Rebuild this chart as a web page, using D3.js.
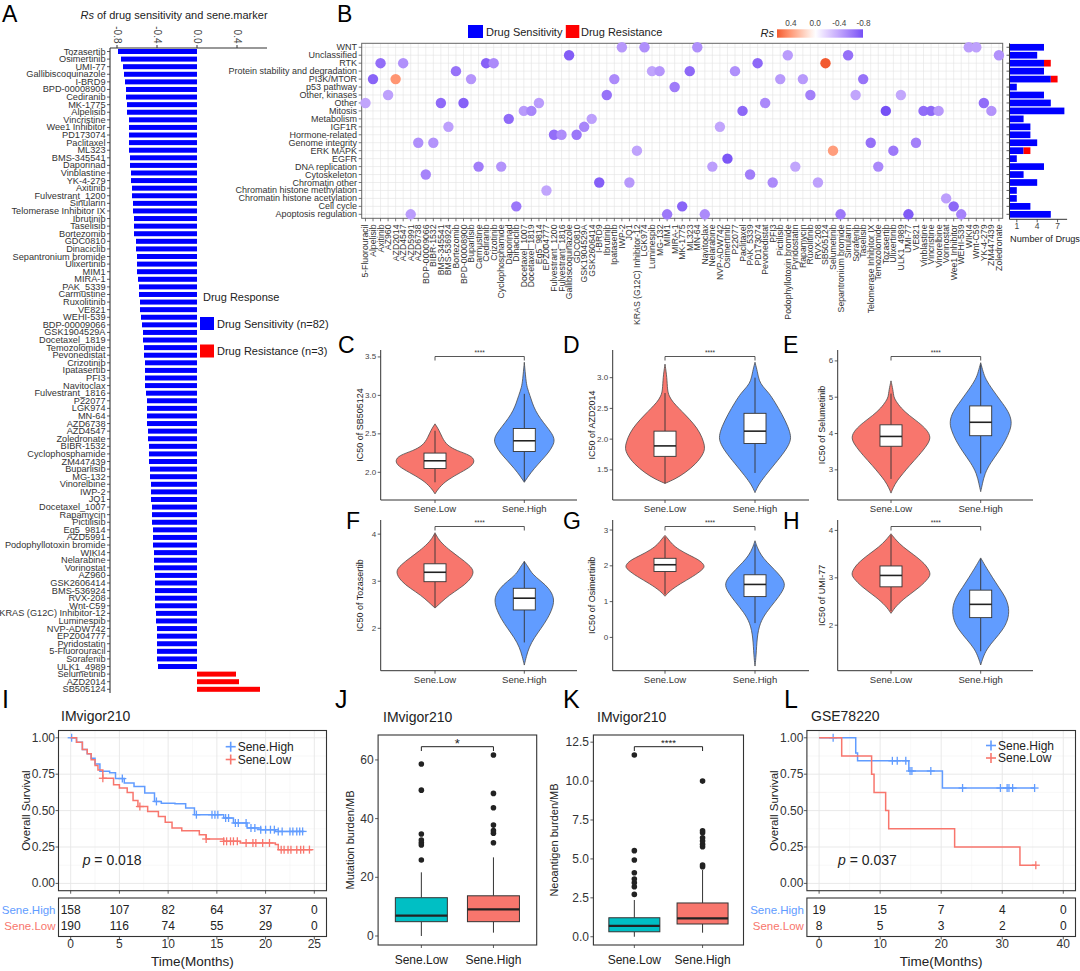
<!DOCTYPE html>
<html>
<head>
<meta charset="utf-8">
<script src="https://cdn.jsdelivr.net/npm/d3@7"></script>
<style>
html,body{margin:0;padding:0;background:#fff;}
svg{display:block;}
text{font-family:"Liberation Sans",Arial,Helvetica,sans-serif;}
</style>
</head>
<body>
<svg id="fig" width="1080" height="971" xmlns="http://www.w3.org/2000/svg"></svg>
<script>
// ================= DATA =================
// Panel A: drugs ordered by Spearman Rs
const drugsA = ["Tozasertib","Osimertinib","UMI-77","Gallibiscoquinazole","I-BRD9","BPD-00008900","Cediranib","MK-1775","Alpelisib","Vincristine","Wee1 Inhibitor","PD173074","Paclitaxel","ML323","BMS-345541","Daporinad","Vinblastine","YK-4-279","Axitinib","Fulvestrant_1200","Sinularin","Telomerase Inhibitor IX","Ibrutinib","Taselisib","Bortezomib","GDC0810","Dinaciclib","Sepantronium bromide","Ulixertinib","MIM1","MIRA-1","PAK_5339","Carmustine","Ruxolitinib","VE821","WEHI-539","BDP-00009066","GSK1904529A","Docetaxel_1819","Temozolomide","Pevonedistat","Crizotinib","Ipatasertib","PFI3","Navitoclax","Fulvestrant_1816","P22077","LGK974","MN-64","AZD6738","AZD4547","Zoledronate","BIBR-1532","Cyclophosphamide","ZM447439","Buparlisib","MG-132","Vinorelbine","IWP-2","JQ1","Docetaxel_1007","Rapamycin","Pictilisib","Eg5_9814","AZD5991","Podophyllotoxin bromide","WIKI4","Nelarabine","Vorinostat","AZ960","GSK2606414","BMS-536924","RVX-208","Wnt-C59","KRAS (G12C) Inhibitor-12","Luminespib","NVP-ADW742","EPZ004777","Pyridostatin","5-Fluorouracil","Sorafenib","ULK1_4989","Selumetinib","AZD2014","SB505124"];
const rsA = [-0.79,-0.76,-0.74,-0.73,-0.72,-0.71,-0.71,-0.70,-0.70,-0.68,
 -0.68,-0.68,-0.68,-0.68,-0.67,-0.67,-0.66,-0.66,-0.65,-0.65,
 -0.64,-0.64,-0.63,-0.63,-0.63,-0.61,-0.61,-0.60,-0.60,-0.60,
 -0.59,-0.58,-0.58,-0.57,-0.57,-0.56,-0.55,-0.54,-0.54,-0.53,
 -0.53,-0.52,-0.52,-0.52,-0.52,-0.51,-0.50,-0.50,-0.50,-0.50,
 -0.49,-0.49,-0.48,-0.48,-0.48,-0.47,-0.47,-0.46,-0.46,-0.46,
 -0.45,-0.45,-0.45,-0.44,-0.44,-0.44,-0.43,-0.43,-0.43,-0.42,
 -0.42,-0.42,-0.42,-0.42,-0.41,-0.41,-0.40,-0.40,-0.40,-0.40,
 -0.40,-0.39,0.39,0.42,0.63];
const ticksA = [-0.8,-0.4,0.0,0.4];

// Panel B: pathways (top to bottom) and drugs (alphabetical) with their pathway
const pathways = ["WNT","Unclassified","RTK","Protein stability and degradation","PI3K/MTOR","p53 pathway","Other, kinases","Other","Mitosis","Metabolism","IGF1R","Hormone-related","Genome integrity","ERK MAPK","EGFR","DNA replication","Cytoskeleton","Chromatin other","Chromatin histone methylation","Chromatin histone acetylation","Cell cycle","Apoptosis regulation"];
const drugsB = ["5-Fluorouracil","Alpelisib","Axitinib","AZ960","AZD2014","AZD4547","AZD5991","AZD6738","BDP-00009066","BIBR-1532","BMS-345541","BMS-536924","Bortezomib","BPD-00008900","Buparlisib","Carmustine","Cediranib","Crizotinib","Cyclophosphamide","Daporinad","Dinaciclib","Docetaxel_1007","Docetaxel_1819","Eg5_9814","EPZ004777","Fulvestrant_1200","Fulvestrant_1816","Gallibiscoquinazole","GDC0810","GSK1904529A","GSK2606414","I-BRD9","Ibrutinib","Ipatasertib","IWP-2","JQ1","KRAS (G12C) Inhibitor-12","LGK974","Luminespib","MG-132","MIM1","MIRA-1","MK-1775","ML323","MN-64","Navitoclax","Nelarabine","NVP-ADW742","Osimertinib","P22077","Paclitaxel","PAK_5339","PD173074","Pevonedistat","PFI3","Pictilisib","Podophyllotoxin bromide","Pyridostatin","Rapamycin","Ruxolitinib","RVX-208","SB505124","Selumetinib","Sepantronium bromide","Sinularin","Sorafenib","Taselisib","Telomerase Inhibitor IX","Temozolomide","Tozasertib","Ulixertinib","ULK1_4989","UMI-77","VE821","Vinblastine","Vincristine","Vinorelbine","Vorinostat","Wee1 Inhibitor","WEHI-539","WIKI4","Wnt-C59","YK-4-279","ZM447439","Zoledronate"];
const pathwayB = ["Other","PI3K/MTOR","RTK","Other, kinases","PI3K/MTOR","RTK","Apoptosis regulation","Genome integrity","Cytoskeleton","Genome integrity",
 "Other","IGF1R","Protein stability and degradation","Other","PI3K/MTOR","DNA replication","RTK","RTK","DNA replication","Metabolism",
 "Cell cycle","Mitosis","Mitosis","Other","Chromatin histone methylation","Hormone-related","Hormone-related","Unclassified","Hormone-related","IGF1R",
 "Metabolism","Chromatin other","Other, kinases","PI3K/MTOR","WNT","Chromatin other","ERK MAPK","WNT","Protein stability and degradation","Protein stability and degradation",
 "Apoptosis regulation","p53 pathway","Cell cycle","Protein stability and degradation","WNT","Apoptosis regulation","DNA replication","IGF1R","EGFR","Protein stability and degradation",
 "Mitosis","Cytoskeleton","RTK","Other","Chromatin other","PI3K/MTOR","Unclassified","DNA replication","PI3K/MTOR","Other, kinases",
 "Chromatin other","RTK","ERK MAPK","Apoptosis regulation","Unclassified","Other, kinases","PI3K/MTOR","Genome integrity","DNA replication","Mitosis",
 "ERK MAPK","Other, kinases","Apoptosis regulation","Genome integrity","Mitosis","Mitosis","Mitosis","Chromatin histone acetylation","Cell cycle","Apoptosis regulation",
 "WNT","WNT","Other","Mitosis","Unclassified"];
const countTicks = [1,4,7];
const rsLegendTicks = [0.4,0.0,-0.4,-0.8];

// Panels C-H: violin density profiles [IC50, relative density] and box stats [lowWhisker, q1, median, q3, highWhisker]
const groups = ["Sene.Low","Sene.High"];
const vioSB505124Low  = [[1.72,0],[1.80,0.1],[1.90,0.3],[2.00,0.65],[2.08,0.92],[2.15,1.0],[2.22,0.9],[2.28,0.55],[2.35,0.3],[2.45,0.18],[2.55,0.1],[2.63,0]];
const vioSB505124High = [[1.87,0],[1.95,0.1],[2.05,0.25],[2.15,0.42],[2.25,0.6],[2.35,0.72],[2.42,0.76],[2.5,0.7],[2.6,0.55],[2.7,0.4],[2.8,0.28],[2.9,0.2],[3.0,0.14],[3.1,0.07],[3.2,0.04],[3.43,0]];
const boxSB505124 = [[1.87,2.05,2.15,2.25,2.54],[1.88,2.27,2.41,2.57,3.02]];
const vioAZD2014Low  = [[1.28,0],[1.35,0.25],[1.45,0.5],[1.6,0.78],[1.75,0.95],[1.85,1.0],[1.95,0.97],[2.1,0.88],[2.25,0.72],[2.4,0.5],[2.5,0.35],[2.6,0.2],[2.7,0.1],[2.8,0.06],[3.0,0.05],[3.22,0]];
const vioAZD2014High = [[1.13,0],[1.25,0.08],[1.4,0.25],[1.6,0.5],[1.8,0.75],[1.95,0.88],[2.05,0.9],[2.2,0.83],[2.4,0.68],[2.6,0.5],[2.75,0.35],[2.85,0.2],[2.95,0.1],[3.1,0.06],[3.25,0]];
const boxAZD2014 = [[1.28,1.72,1.89,2.13,2.75],[1.45,1.93,2.13,2.42,3.0]];
const vioSelumetinibLow  = [[2.36,0],[2.5,0.05],[2.7,0.15],[2.9,0.3],[3.1,0.45],[3.4,0.7],[3.7,0.92],[3.9,1.0],[4.1,0.9],[4.3,0.7],[4.5,0.45],[4.7,0.25],[4.9,0.12],[5.0,0.07],[5.2,0.05],[5.45,0]];
const vioSelumetinibHigh = [[2.4,0],[2.6,0.04],[2.9,0.1],[3.2,0.25],[3.5,0.45],[3.8,0.62],[4.1,0.74],[4.33,0.78],[4.6,0.7],[4.9,0.5],[5.2,0.3],[5.5,0.12],[5.7,0.06],[5.95,0]];
const boxSelumetinib = [[2.75,3.65,3.92,4.24,5.1],[2.9,3.94,4.31,4.76,5.9]];
const vioTozasertibLow  = [[2.43,0],[2.55,0.15],[2.7,0.35],[2.85,0.62],[3.0,0.85],[3.2,1.0],[3.35,0.85],[3.5,0.62],[3.65,0.38],[3.8,0.18],[3.9,0.08],[4.03,0]];
const vioTozasertibHigh = [[1.22,0],[1.4,0.05],[1.6,0.12],[1.8,0.25],[2.0,0.42],[2.2,0.58],[2.45,0.72],[2.65,0.75],[2.85,0.62],[3.0,0.42],[3.15,0.2],[3.3,0.1],[3.42,0]];
const boxTozasertib = [[2.45,2.99,3.19,3.37,4.0],[1.7,2.39,2.64,2.85,3.42]];
const vioOsimertinibLow  = [[1.15,0],[1.3,0.12],[1.5,0.38],[1.7,0.7],[1.9,0.95],[2.0,1.0],[2.15,0.88],[2.3,0.6],[2.45,0.35],[2.6,0.18],[2.75,0.08],[2.85,0]];
const vioOsimertinibHigh = [[-0.8,0],[-0.5,0.03],[0,0.05],[0.4,0.12],[0.7,0.28],[1.0,0.5],[1.3,0.7],[1.5,0.76],[1.7,0.65],[1.9,0.48],[2.1,0.3],[2.3,0.15],[2.5,0.06],[2.7,0]];
const boxOsimertinib = [[1.2,1.84,2.03,2.21,2.8],[0.4,1.14,1.48,1.75,2.6]];
const vioUMI77Low  = [[2.25,0],[2.4,0.12],[2.6,0.38],[2.8,0.72],[3.0,0.95],[3.1,1.0],[3.3,0.85],[3.5,0.55],[3.65,0.3],[3.8,0.12],[3.93,0]];
const vioUMI77High = [[1.16,0],[1.3,0.05],[1.5,0.15],[1.7,0.35],[1.9,0.55],[2.1,0.68],[2.35,0.72],[2.6,0.62],[2.8,0.45],[3.0,0.3],[3.2,0.15],[3.42,0]];
const boxUMI77 = [[2.3,2.81,3.05,3.25,3.9],[1.45,2.16,2.44,2.74,3.4]];

// Panel I (IMvigor210) Kaplan-Meier
const kmIHighTime = [0,0.6,1.2,1.7,2.1,2.5,3.0,4.0,4.6,5.5,6.5,7.6,8.6,9.3,10.7,11.8,12.7,15.7,16.7,18.1,19.5,21.0,23.9];
const kmIHighSurv = [1,0.97,0.92,0.89,0.86,0.82,0.77,0.76,0.72,0.69,0.665,0.62,0.563,0.551,0.547,0.517,0.472,0.449,0.415,0.381,0.369,0.357,0.353];
const kmILowTime = [0,0.6,1.2,1.7,2.1,2.5,2.8,3.3,4.4,5.0,5.8,6.4,6.9,7.9,9.0,9.7,10.4,11.4,13.2,13.9,15.7,17.4,21.0,21.3,24.8];
const kmILowSurv = [1,0.97,0.92,0.89,0.85,0.81,0.779,0.722,0.677,0.655,0.624,0.57,0.528,0.494,0.46,0.42,0.381,0.362,0.335,0.305,0.289,0.278,0.267,0.232,0.232];
const censorIHigh = [0.1,5.3,8.8,12.9,14.5,14.8,15.1,15.9,16.2,16.9,17.2,18.0,18.5,18.9,19.5,20.0,20.5,20.9,21.3,21.7,22.5,22.8,23.2,23.5,23.8];
const censorILow = [3.3,7.1,13.9,15.7,16.0,16.4,16.7,17.1,18.0,18.7,19.0,19.7,20.4,21.6,21.9,22.3,22.6,23.2,23.6,23.9,24.5];
const riskIHigh = [158,107,82,64,37,0];
const riskILow = [190,116,74,55,29,0];
const timeTicksI = [0,5,10,15,20,25];

// Panel L (GSE78220) Kaplan-Meier
const kmLHighTime = [0,6.0,6.3,14.7,20.2,35.3];
const kmLHighSurv = [1,0.895,0.842,0.772,0.655,0.655];
const kmLLowTime = [0,3.7,8.6,9.0,10.9,11.4,22.2,32.9,35.5];
const kmLLowSurv = [1,0.875,0.75,0.625,0.5,0.375,0.25,0.125,0.125];
const censorLHigh = [2.3,12.0,12.8,14.2,14.9,15.2,18.3,23.5,29.7,30.8,31.1,31.7,35.3];
const censorLLow = [35.5];
const riskLHigh = [19,15,7,4,0];
const riskLLow = [8,5,3,2,0];
const timeTicksL = [0,10,20,30,40];
const survTicks = [0,0.25,0.5,0.75,1];

// Panel J: mutation burden; Panel K: neoantigen burden (box stats + outliers)
const boxTMB = [[0,4.88,6.92,13.05,21.7],[1.14,4.88,9.08,13.7,26.8]];
const outTMBLow = [25.9,31.0,31.8,32.7,34.75,49.7,58.6];
const outTMBHigh = [31.8,35.0,35.9,37.8,43.7,48.6,61.7];
const ticksTMB = [0,20,40,60];
const boxTNB = [[0.0,0.32,0.7,1.22,2.36],[0.26,0.82,1.18,2.17,4.29]];
const outTNBLow = [2.72,3.21,3.47,3.71,4.11,4.93,5.53,11.68];
const outTNBHigh = [4.5,4.61,5.78,5.94,6.15,6.36,6.68,6.81,10.0];
const ticksTNB = [0,2.5,5,7.5,10,12.5];

// ================= DRAWING =================
const svg = d3.select("#fig");
const colSens = "#0000FF", colRes = "#FF0000";
const colLow = "#F8766D", colHigh = "#619CFF", colTeal = "#00BFC4";

function T(g, x, y, s, size, o = {}) {
  const t = g.append("text").attr("x", x).attr("y", y)
    .attr("font-size", size).attr("fill", o.fill || "#1a1a1a")
    .attr("text-anchor", o.anchor || "start");
  if (o.base) t.attr("dominant-baseline", o.base);
  if (o.rot != null) t.attr("transform", `rotate(${o.rot},${x},${y})`);
  if (o.italic) t.attr("font-style", "italic");
  t.text(s);
  return t;
}
function L(g, x1, y1, x2, y2, stroke = "#333", w = 1) {
  return g.append("line").attr("x1", x1).attr("y1", y1).attr("x2", x2).attr("y2", y2)
    .attr("stroke", stroke).attr("stroke-width", w);
}

// panel letters
const letters = svg.append("g");
[["A",2,21.7],["B",337,21.7],["C",338,353],["D",563,353],["E",783,353],["F",346,529],["G",563,529],["H",783,529]]
  .forEach(([s,x,y]) => T(letters, x, y, s, 23, {fill:"#000"}));
[["I",2,708],["J",335,708],["K",563,708],["L",784,708]]
  .forEach(([s,x,y]) => T(letters, x, y, s, 25, {fill:"#000"}));

// ---------- Panel A ----------
{
  const g = svg.append("g");
  const x = d3.scaleLinear().domain([-0.87, 0.70]).range([110, 267]);
  const y = d3.scalePoint().domain(drugsA).range([51.5, 689.3]);
  const bars = drugsA.map((d, i) => ({ drug: d, rs: rsA[i] }));
  g.selectAll("rect.barA").data(bars).join("rect").attr("class","barA")
    .attr("x", d => x(Math.min(0, d.rs))).attr("width", d => Math.abs(x(d.rs) - x(0)))
    .attr("y", d => y(d.drug) - 2.5).attr("height", 5)
    .attr("fill", d => d.rs < 0 ? colSens : colRes);
  L(g, 110, 48, 267, 48, "#333", 1.1);
  L(g, 110, 48, 110, 693, "#333", 1.1);
  ticksA.forEach(v => {
    L(g, x(v), 48, x(v), 45, "#333", 1);
    T(g, x(v), 43.5, v.toFixed(1), 10, {anchor:"end", rot:90, base:"central", fill:"#444"});
  });
  drugsA.forEach(d => {
    L(g, 107, y(d), 110, y(d), "#333", 0.8);
    T(g, 105.5, y(d), d, 9.2, {anchor:"end", base:"central", fill:"#333"});
  });
  const tt = g.append("text").attr("x", 174).attr("y", 19).attr("text-anchor","middle")
    .attr("font-size", 11).attr("fill", "#222");
  tt.append("tspan").attr("font-style","italic").text("Rs");
  tt.append("tspan").text(" of drug sensitivity and sene.marker");
  const nSens = rsA.filter(v => v < 0).length, nRes = rsA.filter(v => v > 0).length;
  T(g, 203, 301, "Drug Response", 11, {fill:"#222"});
  g.append("rect").attr("x",200).attr("y",317).attr("width",14).attr("height",13).attr("fill",colSens);
  T(g, 217, 327.5, `Drug Sensitivity (n=${nSens})`, 11, {fill:"#222"});
  g.append("rect").attr("x",200).attr("y",344.5).attr("width",14).attr("height",13).attr("fill",colRes);
  T(g, 217, 355, `Drug Resistance (n=${nRes})`, 11, {fill:"#222"});
}

// ---------- Panel B ----------
const rsColor = d3.scaleLinear().domain([-0.79, 0, 0.63]).range(["#7550F5","#FFFFFF","#F25A30"]).interpolate(d3.interpolateLab);
{
  const g = svg.append("g");
  const x = d3.scaleBand().domain(drugsB).range([361.7, 1002.7]);
  const y = d3.scaleBand().domain(pathways).range([43.3, 218.3]);
  const cx = d => x(d) + x.bandwidth() / 2;
  const cy = p => y(p) + y.bandwidth() / 2;
  const rsBy = new Map(drugsA.map((d, i) => [d, rsA[i]]));
  const pts = drugsB.map((d, i) => ({ drug: d, path: pathwayB[i], rs: rsBy.get(d) }));

  g.append("rect").attr("x",361.7).attr("y",43.3).attr("width",641).attr("height",175).attr("fill","#fff");
  drugsB.forEach(d => L(g, cx(d), 43.3, cx(d), 218.3, "#E3E3E3", 0.6));
  pathways.forEach(p => L(g, 361.7, cy(p), 1002.7, cy(p), "#E3E3E3", 0.6));
  g.append("rect").attr("x",361.7).attr("y",43.3).attr("width",641).attr("height",175)
    .attr("fill","none").attr("stroke","#666").attr("stroke-width",1);
  pathways.forEach(p => {
    L(g, 358.7, cy(p), 361.7, cy(p), "#555", 0.8);
    T(g, 357, cy(p), p, 9, {anchor:"end", base:"central", fill:"#333"});
  });
  drugsB.forEach(d => {
    L(g, cx(d), 218.3, cx(d), 221.3, "#555", 0.8);
    T(g, cx(d), 224.5, d, 8.7, {anchor:"end", rot:-90, base:"central", fill:"#333"});
  });
  g.selectAll("circle.dotB").data(pts).join("circle").attr("class","dotB")
    .attr("cx", d => cx(d.drug)).attr("cy", d => cy(d.path)).attr("r", 5.2)
    .attr("fill", d => rsColor(d.rs));

  // number of drugs per pathway
  const xn = d3.scaleLinear().domain([0, 8.4]).range([1010, 1067.1]);
  const counts = pathways.map(p => ({
    path: p,
    sens: pts.filter(o => o.path === p && o.rs < 0).length,
    res: pts.filter(o => o.path === p && o.rs > 0).length
  }));
  const bh = y.bandwidth() * 0.84, bo = y.bandwidth() * 0.08;
  g.selectAll("rect.sensN").data(counts).join("rect").attr("class","sensN")
    .attr("x", xn(0)).attr("y", d => y(d.path) + bo).attr("height", bh)
    .attr("width", d => xn(d.sens) - xn(0)).attr("fill", colSens);
  g.selectAll("rect.resN").data(counts.filter(d => d.res > 0)).join("rect").attr("class","resN")
    .attr("x", d => xn(d.sens)).attr("y", d => y(d.path) + bo).attr("height", bh)
    .attr("width", d => xn(d.sens + d.res) - xn(d.sens)).attr("fill", colRes);
  L(g, 1009.5, 43.3, 1009.5, 219.3, "#333", 1);
  L(g, 1009.5, 219.3, 1067.1, 219.3, "#333", 1);
  pathways.forEach(p => L(g, 1006.5, cy(p), 1009.5, cy(p), "#333", 0.8));
  countTicks.forEach(v => {
    L(g, xn(v), 219.3, xn(v), 222.3, "#333", 0.8);
    T(g, xn(v), 228.5, String(v), 8.5, {anchor:"middle", fill:"#444"});
  });
  T(g, 1045, 241.5, "Number of Drugs", 9.2, {anchor:"middle", fill:"#222"});

  // legends
  g.append("rect").attr("x",468).attr("y",25).attr("width",15).attr("height",13).attr("fill",colSens);
  T(g, 486, 36.2, "Drug Sensitivity", 11, {fill:"#222"});
  g.append("rect").attr("x",565.8).attr("y",25).attr("width",13.5).attr("height",13).attr("fill",colRes);
  T(g, 581, 36.2, "Drug Resistance", 11, {fill:"#222"});
  T(g, 774, 37, "Rs", 11, {anchor:"end", italic:true, fill:"#222"});
  const defs = svg.append("defs");
  const grad = defs.append("linearGradient").attr("id","rsgrad").attr("x1","0%").attr("x2","100%");
  const xl = d3.scaleLinear().domain([0.63, -0.79]).range([777, 863]);
  d3.range(0, 21).forEach(i => {
    const v = xl.invert(777 + i * (86 / 20));
    grad.append("stop").attr("offset", (i * 5) + "%").attr("stop-color", rsColor(v));
  });
  g.append("rect").attr("x",777).attr("y",29.3).attr("width",86).attr("height",8.4).attr("fill","url(#rsgrad)");
  rsLegendTicks.forEach(v => T(g, xl(v), 25.5, v.toFixed(1), 8.2, {anchor:"middle", fill:"#444"}));
}

// ---------- Panels C-H ----------
const violinPanels = [
  {drug:"SB505124", yx:380.7, right:577, top:350, bottom:500, xl:435, xh:524.3, dom:[1.64,3.59], ticks:[2,2.5,3,3.5], dec:1, toff:21, low:vioSB505124Low, high:vioSB505124High, box:boxSB505124},
  {drug:"AZD2014", yx:612.7, right:809, top:350, bottom:500, xl:665, xh:755, dom:[1.01,3.45], ticks:[1.5,2,2.5,3], dec:1, toff:21, low:vioAZD2014Low, high:vioAZD2014High, box:boxAZD2014},
  {drug:"Selumetinib", yx:837.7, right:1033, top:350, bottom:500, xl:891, xh:980.7, dom:[2.17,6.3], ticks:[3,4,5,6], dec:0, toff:16, low:vioSelumetinibLow, high:vioSelumetinibHigh, box:boxSelumetinib},
  {drug:"Tozasertib", yx:380.7, right:577, top:520, bottom:670.7, xl:435, xh:524.3, dom:[1.1,4.3], ticks:[2,3,4], dec:0, toff:21, low:vioTozasertibLow, high:vioTozasertibHigh, box:boxTozasertib},
  {drug:"Osimertinib", yx:612.7, right:809, top:520, bottom:670.7, xl:665, xh:755, dom:[-0.93,3.28], ticks:[0,1,2,3], dec:0, toff:21, low:vioOsimertinibLow, high:vioOsimertinibHigh, box:boxOsimertinib},
  {drug:"UMI-77", yx:837.7, right:1033, top:520, bottom:670.7, xl:891, xh:980.7, dom:[1.04,4.22], ticks:[2,3,4], dec:0, toff:16, low:vioUMI77Low, high:vioUMI77High, box:boxUMI77}
];
violinPanels.forEach(c => {
  const g = svg.append("g");
  const y = d3.scaleLinear().domain(c.dom).range([c.bottom, c.top]);
  const xg = d3.scaleOrdinal().domain(groups).range([c.xl, c.xh]);
  const halfW = 40, boxHalf = 11;
  [[c.low, groups[0], colLow], [c.high, groups[1], colHigh]].forEach(([prof, grp, col]) => {
    const cxv = xg(grp);
    const area = d3.area().curve(d3.curveBasis)
      .y(p => y(p[0])).x0(p => cxv - p[1] * halfW).x1(p => cxv + p[1] * halfW);
    g.append("path").attr("d", area(prof)).attr("fill", col)
      .attr("stroke", "#4a4a4a").attr("stroke-width", 0.8);
  });
  c.box.forEach((b, i) => {
    const cxv = xg(groups[i]);
    L(g, cxv, y(b[0]), cxv, y(b[1]), "#333", 0.9);
    L(g, cxv, y(b[3]), cxv, y(b[4]), "#333", 0.9);
    g.append("rect").attr("x", cxv - boxHalf).attr("width", boxHalf * 2)
      .attr("y", y(b[3])).attr("height", y(b[1]) - y(b[3]))
      .attr("fill", "#fff").attr("stroke", "#333").attr("stroke-width", 0.9);
    L(g, cxv - boxHalf, y(b[2]), cxv + boxHalf, y(b[2]), "#222", 1.6);
  });
  L(g, c.yx, c.top, c.yx, c.bottom, "#333", 1);
  L(g, c.yx, c.bottom, c.right, c.bottom, "#333", 1);
  c.ticks.forEach(v => {
    L(g, c.yx - 3, y(v), c.yx, y(v), "#333", 0.8);
    T(g, c.yx - 4.5, y(v), v.toFixed(c.dec), 8, {anchor:"end", base:"central", fill:"#444"});
  });
  groups.forEach(gr => {
    L(g, xg(gr), c.bottom, xg(gr), c.bottom + 3, "#333", 0.8);
    T(g, xg(gr), c.bottom + 12, gr, 9.5, {anchor:"middle", fill:"#333"});
  });
  T(g, c.yx - c.toff, (c.top + c.bottom) / 2, "IC50 of " + c.drug, 9, {anchor:"middle", rot:-90, base:"central", fill:"#222"});
  const by = c.top + 6.5;
  L(g, c.xl, by, c.xh, by, "#444", 0.9);
  L(g, c.xl, by, c.xl, by + 4, "#444", 0.9);
  L(g, c.xh, by, c.xh, by + 4, "#444", 0.9);
  T(g, (c.xl + c.xh) / 2, by - 2, "****", 6.5, {anchor:"middle", fill:"#333"});
});

// ---------- Panels I and L (Kaplan-Meier) ----------
function survAt(times, surv, t) {
  let s = surv[0];
  times.forEach((ti, i) => { if (ti <= t) s = surv[i]; });
  return s;
}
function kmPanel(o) {
  const g = svg.append("g");
  const x = d3.scaleLinear().domain(o.xDomain).range([o.left, o.right]);
  const y = d3.scaleLinear().domain([-0.05, 1.05]).range([o.bottom, o.top]);
  g.append("rect").attr("x", o.left).attr("y", o.top).attr("width", o.right - o.left)
    .attr("height", o.bottom - o.top).attr("fill", "#fff");
  const minorX = o.ticksX.slice(0, -1).map((t, i) => (t + o.ticksX[i + 1]) / 2);
  const minorY = survTicks.slice(0, -1).map((t, i) => (t + survTicks[i + 1]) / 2);
  minorX.forEach(t => L(g, x(t), o.top, x(t), o.bottom, "#F3F3F3", 0.6));
  minorY.forEach(t => L(g, o.left, y(t), o.right, y(t), "#F3F3F3", 0.6));
  o.ticksX.forEach(t => L(g, x(t), o.top, x(t), o.bottom, "#E6E6E6", 0.9));
  survTicks.forEach(t => L(g, o.left, y(t), o.right, y(t), "#E6E6E6", 0.9));
  g.append("rect").attr("x", o.left).attr("y", o.top).attr("width", o.right - o.left)
    .attr("height", o.bottom - o.top).attr("fill", "none").attr("stroke", "#333").attr("stroke-width", 1.1);
  survTicks.forEach(t => {
    L(g, o.left - 3, y(t), o.left, y(t), "#333", 0.8);
    T(g, o.left - 3.5, y(t), t.toFixed(2), 12, {anchor:"end", base:"central", fill:"#333"});
  });
  o.ticksX.forEach(t => L(g, x(t), o.bottom, x(t), o.bottom + 3, "#333", 0.8));
  T(g, o.yTitleX, (o.top + o.bottom) / 2, "Overall Survival", 11.5, {anchor:"middle", rot:-90, base:"central", fill:"#222"});
  const line = d3.line().curve(d3.curveStepAfter).x(p => x(p[0])).y(p => y(p[1]));
  o.series.forEach(s => {
    const pts = s.time.map((t, i) => [t, s.surv[i]]);
    g.append("path").attr("d", line(pts)).attr("fill", "none").attr("stroke", s.color).attr("stroke-width", 1.5);
    s.censor.forEach(t => {
      const cxv = x(t), cyv = y(survAt(s.time, s.surv, t));
      L(g, cxv - 4, cyv, cxv + 4, cyv, s.color, 1.3);
      L(g, cxv, cyv - 4, cxv, cyv + 4, s.color, 1.3);
    });
  });
  o.series.forEach((s, i) => {
    const ly = o.legendY[i];
    L(g, o.legendX - 5, ly, o.legendX + 5, ly, s.color, 1.6);
    L(g, o.legendX, ly - 5, o.legendX, ly + 5, s.color, 1.6);
    T(g, o.legendX + 7, ly, s.name, 12, {base:"central", fill:"#222"});
  });
  const pt = g.append("text").attr("x", o.pX).attr("y", 865).attr("font-size", 14).attr("fill", "#222");
  pt.append("tspan").attr("font-style", "italic").text("p");
  pt.append("tspan").text(" = " + o.pText);
  T(g, o.titleX, 721, o.title, 14, {fill:"#222"});
  // risk table
  g.append("rect").attr("x", o.left).attr("y", 898).attr("width", o.right - o.left).attr("height", 38.5)
    .attr("fill", "#fff").attr("stroke", "#333").attr("stroke-width", 1.1);
  const rowY = [909.5, 925.5];
  o.series.forEach((s, i) => {
    T(g, o.left - 3, rowY[i], s.name, 11.5, {anchor:"end", base:"central", fill:s.color});
    s.risk.forEach((n, j) => T(g, x(o.ticksX[j]), rowY[i], String(n), 12, {anchor:"middle", base:"central", fill:"#222"}));
  });
  o.ticksX.forEach(t => {
    L(g, x(t), 936.5, x(t), 939.5, "#333", 0.8);
    T(g, x(t), 943.8, String(t), 12, {anchor:"middle", base:"central", fill:"#333"});
  });
  T(g, (o.left + o.right) / 2, 965.5, "Time(Months)", 13.5, {anchor:"middle", fill:"#222"});
}
kmPanel({
  left:58.5, right:326.5, top:730.5, bottom:890.7, xDomain:[-1.25, 26.25], ticksX:timeTicksI,
  yTitleX:25.8, pX:82.7, pText:"0.018", title:"IMvigor210", titleX:61, legendX:230.7, legendY:[746.7, 759.5],
  series:[
    {name:"Sene.High", color:colHigh, time:kmIHighTime, surv:kmIHighSurv, censor:censorIHigh, risk:riskIHigh},
    {name:"Sene.Low", color:colLow, time:kmILowTime, surv:kmILowSurv, censor:censorILow, risk:riskILow}
  ]
});
kmPanel({
  left:806.9, right:1075.5, top:730.5, bottom:890.7, xDomain:[-2, 42], ticksX:timeTicksL,
  yTitleX:774.2, pX:838, pText:"0.037", title:"GSE78220", titleX:811, legendX:991, legendY:[745.5, 758],
  series:[
    {name:"Sene.High", color:colHigh, time:kmLHighTime, surv:kmLHighSurv, censor:censorLHigh, risk:riskLHigh},
    {name:"Sene.Low", color:colLow, time:kmLLowTime, surv:kmLLowSurv, censor:censorLLow, risk:riskLLow}
  ]
});

// ---------- Panels J and K (box plots) ----------
function boxPanel(o) {
  const g = svg.append("g");
  const x = d3.scalePoint().domain(groups).range([o.left, o.right]).padding(0.6);
  const y = d3.scaleLinear().domain(o.yDomain).range([o.bottom, o.top]);
  g.append("rect").attr("x", o.left).attr("y", o.top).attr("width", o.right - o.left)
    .attr("height", o.bottom - o.top).attr("fill", "#fff").attr("stroke", "#333").attr("stroke-width", 1.1);
  o.ticks.forEach(v => {
    L(g, o.left - 3, y(v), o.left, y(v), "#333", 0.8);
    T(g, o.left - 4.5, y(v), v.toFixed(o.dec), 12, {anchor:"end", base:"central", fill:"#333"});
  });
  groups.forEach(gr => {
    L(g, x(gr), o.bottom, x(gr), o.bottom + 3, "#333", 0.8);
    T(g, x(gr), 963.5, gr, 12, {anchor:"middle", fill:"#222"});
  });
  const cols = [colTeal, colLow];
  o.box.forEach((b, i) => {
    const cxv = x(groups[i]), hw = o.boxW / 2;
    L(g, cxv, y(b[0]), cxv, y(b[1]), "#333", 1);
    L(g, cxv, y(b[3]), cxv, y(b[4]), "#333", 1);
    g.append("rect").attr("x", cxv - hw).attr("width", hw * 2).attr("y", y(b[3]))
      .attr("height", y(b[1]) - y(b[3])).attr("fill", cols[i]).attr("stroke", "#333").attr("stroke-width", 1);
    L(g, cxv - hw, y(b[2]), cxv + hw, y(b[2]), "#222", 2.2);
    g.selectAll(null).data(o.out[i]).join("circle")
      .attr("cx", cxv).attr("cy", v => y(v)).attr("r", 2.8).attr("fill", "#222");
  });
  const xl = x(groups[0]), xh = x(groups[1]);
  L(g, xl, 746.7, xh, 746.7, "#222", 1);
  L(g, xl, 746.7, xl, 751, "#222", 1);
  L(g, xh, 746.7, xh, 751, "#222", 1);
  T(g, (xl + xh) / 2, o.starY, o.star, o.starSize, {anchor:"middle", fill:"#222"});
  T(g, o.titleX, 722, "IMvigor210", 14, {fill:"#222"});
  T(g, o.yTitleX, (o.top + o.bottom) / 2, o.yTitle, 11, {anchor:"middle", rot:-90, base:"central", fill:"#222"});
}
boxPanel({left:378.1, right:536.7, top:735, bottom:945, yDomain:[-3.07, 68.5], ticks:ticksTMB, dec:0,
  boxW:52, box:boxTMB, out:[outTMBLow, outTMBHigh], star:"*", starY:748, starSize:13,
  titleX:383, yTitleX:349.5, yTitle:"Mutation burden/MB"});
boxPanel({left:593.4, right:743.5, top:735, bottom:945, yDomain:[-0.53, 12.96], ticks:ticksTNB, dec:1,
  boxW:51, box:boxTNB, out:[outTNBLow, outTNBHigh], star:"****", starY:745.5, starSize:9.5,
  titleX:597, yTitleX:553.8, yTitle:"Neoantigen burden/MB"});
</script>
</body>
</html>
